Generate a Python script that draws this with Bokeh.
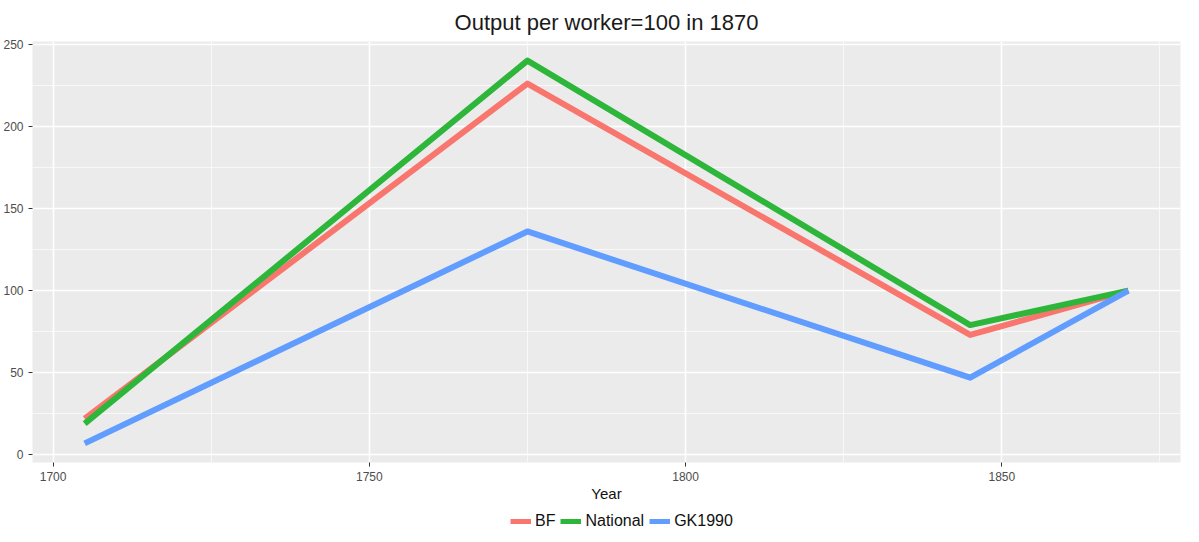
from bokeh.plotting import figure
from bokeh.layouts import column
from bokeh.models import FixedTicker, Legend, LegendItem, Range1d
from bokeh.embed import file_html
from bokeh.resources import INLINE

years = [1705, 1775, 1845, 1870]
bf = [22, 226, 73, 100]
national = [19, 240, 79, 100]
gk1990 = [7, 136, 47, 100]
series_names = ["BF", "National", "GK1990"]
series_values = [bf, national, gk1990]
colors = ["#F8766D", "#2DB63A", "#619CFF"]
x_ticks = [1700, 1750, 1800, 1850]
x_minor = [1725, 1775, 1825, 1875]
y_ticks = [0, 50, 100, 150, 200, 250]
y_minor = [25, 75, 125, 175, 225]

FONT = "Liberation Sans"

p = figure(width=1183, height=510, output_backend="svg", toolbar_location=None,
           x_range=Range1d(1696.75, 1878.25), y_range=Range1d(-4.65, 251.65),
           title="Output per worker=100 in 1870",
           min_border_left=30, min_border_right=3, min_border_top=34, min_border_bottom=48)

p.background_fill_color = "#EBEBEB"
p.border_fill_color = "white"
p.outline_line_color = None

p.title.align = "center"
p.title.text_font = FONT
p.title.text_font_size = "22px"
p.title.text_font_style = "normal"
p.title.text_color = "#1A1A1A"
p.title.standoff = 14

p.xaxis.ticker = FixedTicker(ticks=x_ticks, minor_ticks=x_minor)
p.yaxis.ticker = FixedTicker(ticks=y_ticks, minor_ticks=y_minor)
for ax in (p.xaxis[0], p.yaxis[0]):
    ax.axis_line_color = None
    ax.major_tick_line_color = "#333333"
    ax.major_tick_in = 0
    ax.major_tick_out = 4
    ax.minor_tick_line_color = None
    ax.major_label_text_font = FONT
    ax.major_label_text_font_size = "12px"
    ax.major_label_text_color = "#4D4D4D"
p.xaxis.major_label_standoff = 5
p.yaxis.major_label_standoff = 5

p.xaxis.axis_label = "Year"
p.xaxis.axis_label_text_font = FONT
p.xaxis.axis_label_text_font_size = "15px"
p.xaxis.axis_label_text_font_style = "normal"
p.xaxis.axis_label_text_color = "#111111"
p.xaxis.axis_label_standoff = 1

for g in (p.xgrid[0], p.ygrid[0]):
    g.grid_line_color = "white"
    g.grid_line_width = 1.6
    g.minor_grid_line_color = "white"
    g.minor_grid_line_width = 0.8
    g.minor_grid_line_alpha = 0.8

for name, vals, c in zip(series_names, series_values, colors):
    p.line(years, vals, line_color=c, line_width=6, line_join="round")

# legend strip below the chart (same series; its lines fall outside this strip's view)
lf = figure(width=1183, height=24, output_backend="svg", toolbar_location=None,
            x_range=Range1d(0, 1), y_range=Range1d(0, 1), min_border=0)
lf.axis.visible = False
lf.grid.visible = False
lf.outline_line_color = None
lf.background_fill_color = "white"
lf.border_fill_color = "white"

items = []
for name, vals, c in zip(series_names, series_values, colors):
    r = lf.line(years, vals, line_color=c, line_width=5)
    items.append(LegendItem(label=name, renderers=[r]))

legend = Legend(items=items, orientation="horizontal", location=(478, 4),
                label_text_font=FONT, label_text_font_size="16px",
                label_text_color="#111111", glyph_width=21, glyph_height=16,
                label_standoff=4, spacing=5, padding=0, margin=0,
                label_height=16, border_line_color=None, background_fill_alpha=0)
lf.add_layout(legend, "center")

layout = column(p, lf, spacing=0)
open("out.html", "w").write(file_html(layout, INLINE))
